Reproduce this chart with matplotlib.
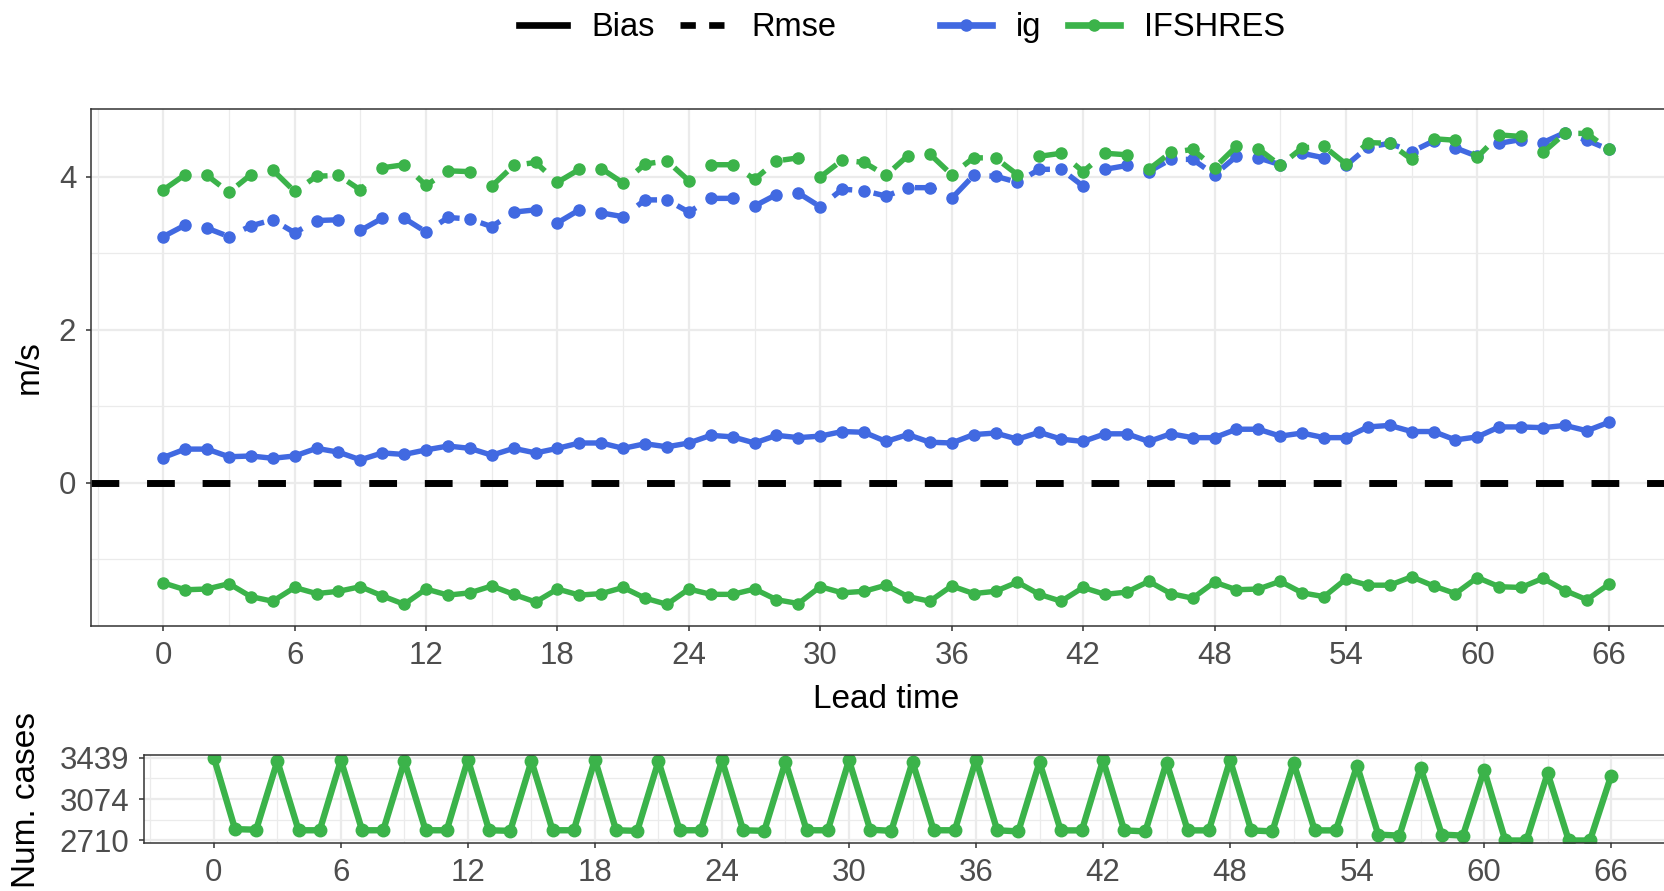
import matplotlib
matplotlib.use("Agg")
import matplotlib.pyplot as plt
from matplotlib.lines import Line2D
from matplotlib.ticker import MultipleLocator, FixedLocator

plt.rcParams['font.family'] = ['Liberation Sans', 'DejaVu Sans']

# values
lead_time = list(range(67))

ig_bias = [0.33, 0.44, 0.44, 0.34, 0.35, 0.32, 0.35, 0.45, 0.40, 0.30,
           0.39, 0.37, 0.43, 0.48, 0.45, 0.36, 0.45, 0.39, 0.45, 0.52,
           0.52, 0.45, 0.51, 0.47, 0.52, 0.62, 0.60, 0.52, 0.62, 0.59,
           0.61, 0.67, 0.66, 0.54, 0.63, 0.53, 0.52, 0.63, 0.65, 0.57,
           0.66, 0.57, 0.54, 0.64, 0.64, 0.54, 0.64, 0.59, 0.59, 0.70,
           0.70, 0.61, 0.65, 0.59, 0.59, 0.73, 0.75, 0.67, 0.67, 0.56,
           0.60, 0.73, 0.73, 0.72, 0.75, 0.68, 0.79]

ifs_bias = [-1.31, -1.40, -1.39, -1.32, -1.49, -1.55, -1.37, -1.45, -1.42, -1.36,
            -1.48, -1.59, -1.39, -1.47, -1.44, -1.35, -1.46, -1.56, -1.39, -1.47,
            -1.45, -1.37, -1.51, -1.59, -1.39, -1.46, -1.46, -1.39, -1.53, -1.58,
            -1.36, -1.44, -1.42, -1.34, -1.49, -1.55, -1.35, -1.45, -1.42, -1.30,
            -1.46, -1.55, -1.37, -1.46, -1.43, -1.29, -1.45, -1.51, -1.30, -1.40,
            -1.39, -1.29, -1.44, -1.49, -1.26, -1.34, -1.34, -1.23, -1.35, -1.45,
            -1.24, -1.36, -1.37, -1.25, -1.41, -1.53, -1.33]

ig_rmse = [3.22, 3.37, 3.33, 3.22, 3.36, 3.44, 3.27, 3.43, 3.44, 3.30,
           3.46, 3.46, 3.28, 3.47, 3.45, 3.35, 3.54, 3.57, 3.40, 3.57,
           3.53, 3.48, 3.70, 3.70, 3.54, 3.72, 3.72, 3.62, 3.77, 3.79,
           3.61, 3.84, 3.82, 3.75, 3.86, 3.86, 3.72, 4.02, 4.01, 3.93,
           4.10, 4.10, 3.88, 4.10, 4.15, 4.07, 4.23, 4.23, 4.03, 4.27,
           4.25, 4.16, 4.31, 4.25, 4.15, 4.39, 4.44, 4.33, 4.47, 4.38,
           4.27, 4.44, 4.49, 4.45, 4.58, 4.48, 4.36]

ifs_rmse = [3.83, 4.03, 4.02, 3.80, 4.03, 4.09, 3.81, 4.01, 4.02, 3.83,
            4.12, 4.16, 3.89, 4.08, 4.07, 3.88, 4.15, 4.19, 3.93, 4.10,
            4.11, 3.92, 4.17, 4.21, 3.95, 4.16, 4.16, 3.97, 4.21, 4.25,
            4.00, 4.22, 4.19, 4.02, 4.28, 4.30, 4.03, 4.25, 4.25, 4.03,
            4.27, 4.31, 4.07, 4.31, 4.29, 4.10, 4.32, 4.36, 4.12, 4.40,
            4.37, 4.15, 4.38, 4.40, 4.17, 4.45, 4.44, 4.23, 4.50, 4.48,
            4.26, 4.55, 4.53, 4.32, 4.57, 4.57, 4.36]

num_cases = [3439, 2810, 2805, 3408, 2800, 2800, 3416, 2800, 2800, 3408,
             2800, 2800, 3422, 2800, 2795, 3408, 2800, 2800, 3422, 2800,
             2795, 3408, 2800, 2800, 3416, 2800, 2795, 3402, 2800, 2800,
             3416, 2805, 2795, 3402, 2800, 2800, 3422, 2800, 2790, 3399,
             2799, 2799, 3416, 2799, 2790, 3396, 2799, 2799, 3416, 2799,
             2790, 3393, 2799, 2799, 3368, 2762, 2753, 3351, 2762, 2753,
             3331, 2710, 2710, 3302, 2710, 2710, 3280]

BLUE = "#4169E1"
GREEN = "#3BB34A"
GRID = "#EBEBEB"
DARK = "#333333"
TICKLAB = "#4D4D4D"
W, H = 1664, 891


def px_rect(left, top, right, bottom):
    return [left / W, 1 - bottom / H, (right - left) / W, (bottom - top) / H]


fig = plt.figure(figsize=(W / 100, H / 100), dpi=100)

# main panel
ax = fig.add_axes(px_rect(91, 109, 1681, 626))
ax.plot(lead_time, ig_rmse, color=BLUE, lw=3.9, ls=(0, (4, 4)), marker='o', ms=8)
ax.plot(lead_time, ig_bias, color=BLUE, lw=3.9, marker='o', ms=8)
ax.plot(lead_time, ifs_rmse, color=GREEN, lw=3.9, ls=(0, (4, 4)), marker='o', ms=8)
ax.plot(lead_time, ifs_bias, color=GREEN, lw=3.9, marker='o', ms=8)
ax.axhline(0, color='black', lw=5, ls=(0, (4, 4)))
ax.set_xlim(-3.3, 69.3)
ax.set_ylim(-1.874, 4.889)
ax.xaxis.set_major_locator(MultipleLocator(6))
ax.xaxis.set_minor_locator(MultipleLocator(3))
ax.yaxis.set_major_locator(MultipleLocator(2))
ax.yaxis.set_minor_locator(MultipleLocator(1))

# number of cases panel
ax2 = fig.add_axes(px_rect(144, 755, 1681, 843))
ax2.plot(lead_time, num_cases, color=GREEN, lw=4.6, marker='o', ms=9)
ax2.set_xlim(-3.3, 69.3)
lo, hi = min(num_cases), max(num_cases)
ax2.set_ylim(2688, 3462)
ax2.xaxis.set_major_locator(MultipleLocator(6))
ax2.xaxis.set_minor_locator(MultipleLocator(3))
ax2.yaxis.set_major_locator(FixedLocator([lo, (lo + hi) / 2, hi]))
ax2.set_yticklabels([str(int(v)) for v in [lo, (lo + hi) / 2, hi]])
ax2.yaxis.set_minor_locator(FixedLocator([lo + (hi - lo) / 4, lo + 3 * (hi - lo) / 4]))

for a in (ax, ax2):
    a.set_axisbelow(True)
    a.grid(which='major', color=GRID, lw=1.6)
    a.grid(which='minor', color=GRID, lw=0.9)
    a.tick_params(which='minor', length=0)
    a.tick_params(which='major', length=3.6, width=1.1, color=DARK,
                  labelcolor=TICKLAB, labelsize=22.5, pad=7)
    for s in a.spines.values():
        s.set_color(DARK)
        s.set_linewidth(1.1)

fig.text(886 / W, 1 - 700 / H, "Lead time", ha='center', va='center', fontsize=24)
fig.text(29 / W, 1 - 367 / H, "m/s", rotation=90, ha='center', va='center', fontsize=24)
fig.text(26.5 / W, 1 - 800 / H, "Num. cases", rotation=90, ha='center', va='center', fontsize=24)

# legends
h_bias = Line2D([], [], color='black', lw=4.8)
h_rmse = Line2D([], [], color='black', lw=4.8, ls=(0, (2.3, 2.0)))
fig.legend([h_bias, h_rmse], ['Bias', 'Rmse'], loc='center left',
           bbox_to_anchor=(519 / W, 1 - 27.5 / H), ncol=2, frameon=False, fontsize=23.5,
           handlelength=1.47, handletextpad=0.74, columnspacing=0.77,
           borderpad=0, borderaxespad=0)
h_ig = Line2D([], [], color=BLUE, lw=4.8, marker='o', ms=8)
h_ifs = Line2D([], [], color=GREEN, lw=4.8, marker='o', ms=8)
fig.legend([h_ig, h_ifs], ['ig', 'IFSHRES'], loc='center left',
           bbox_to_anchor=(940 / W, 1 - 27.5 / H), ncol=2, frameon=False, fontsize=23.5,
           handlelength=1.6, handletextpad=0.74, columnspacing=0.8,
           borderpad=0, borderaxespad=0)

fig.savefig("out.png", dpi=100)
